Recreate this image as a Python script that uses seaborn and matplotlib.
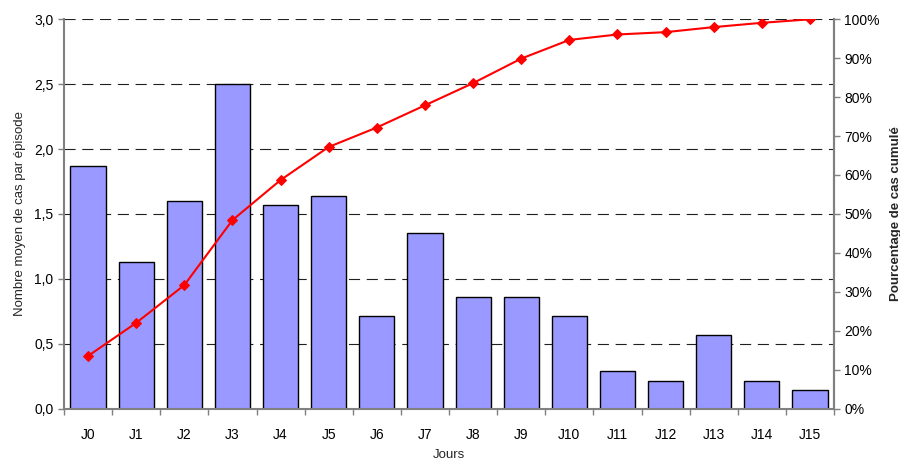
import matplotlib
matplotlib.use("Agg")
import matplotlib.pyplot as plt
import seaborn as sns
import numpy as np
import pandas as pd
from matplotlib.ticker import FuncFormatter, MultipleLocator, FixedLocator

categories = ["J0", "J1", "J2", "J3", "J4", "J5", "J6", "J7", "J8", "J9",
              "J10", "J11", "J12", "J13", "J14", "J15"]
mean_cases = [1.87, 1.13, 1.60, 2.50, 1.57, 1.64, 0.71, 1.35, 0.86, 0.86,
              0.71, 0.29, 0.21, 0.57, 0.21, 0.14]
cumul_pct = [13.5, 22.0, 31.7, 48.4, 58.7, 67.2, 72.2, 77.9, 83.6, 89.9,
             94.7, 96.1, 96.7, 98.0, 99.1, 100.0]

sns.set_theme(style="white")
plt.rcParams['font.family'] = ['Liberation Sans', 'DejaVu Sans']

df = pd.DataFrame({"Jour": categories, "moy": mean_cases, "pct": cumul_pct})
df["pos"] = np.arange(len(categories))

fig = plt.figure(figsize=(9, 4.62), dpi=100)
ax = fig.add_axes([0.0711, 0.1158, 0.8556, 0.8424])

sns.barplot(data=df, x="Jour", y="moy", color="#9999FF", edgecolor="black",
            linewidth=1.0, width=0.73, saturation=1, ax=ax, zorder=2)

ax.set_ylim(0, 3.0)
ax.set_xlim(-0.5, len(categories) - 0.5)
ax.yaxis.set_major_locator(MultipleLocator(0.5))
ax.yaxis.set_major_formatter(FuncFormatter(lambda v, p: f"{v:.1f}".replace(".", ",")))
ax.grid(axis="y", color="#202020", linestyle=(0, (10, 6)), linewidth=0.8, zorder=0)
ax.set_axisbelow(True)

ax.spines["top"].set_visible(False)
for s in ["left", "bottom", "right"]:
    ax.spines[s].set_color("#808080")
    ax.spines[s].set_linewidth(1.5)

ax.xaxis.set_minor_locator(FixedLocator(np.arange(-0.5, len(categories), 1.0)))
ax.tick_params(axis="x", which="major", length=0, pad=14, labelsize=10, colors="black")
ax.tick_params(axis="x", which="minor", length=4, width=1, color="#808080", direction="out", bottom=True)
ax.tick_params(axis="y", length=4, width=1, color="#808080", direction="out", left=True,
               labelsize=10, labelcolor="black")
ax.set_xlabel("Jours", fontsize=9.5, labelpad=5)
ax.set_ylabel("Nombre moyen de cas par épisode", fontsize=9.5, labelpad=6)

ax2 = ax.twinx()
sns.lineplot(data=df, x="pos", y="pct", color="#FF0000", marker="D", markersize=5,
             markeredgecolor="#FF0000", linewidth=1.5, ax=ax2, zorder=5)
ax2.set_ylim(0, 100)
ax2.yaxis.set_major_locator(MultipleLocator(10))
ax2.yaxis.set_major_formatter(FuncFormatter(lambda v, p: f"{int(round(v))}%"))
ax2.tick_params(axis="y", length=4, width=1, color="#808080", direction="out", right=True,
                labelsize=10, labelcolor="black")
ax2.set_ylabel("Pourcentage de cas cumulé", fontsize=9.5, fontweight="bold", labelpad=7)
ax2.set_xlabel("")
ax2.grid(False)
for s in ["top", "left", "bottom"]:
    ax2.spines[s].set_visible(False)
ax2.spines["right"].set_color("#808080")
ax2.spines["right"].set_linewidth(1.5)
ax2.set_xlim(-0.5, len(categories) - 0.5)

fig.savefig("out.png", dpi=100)
